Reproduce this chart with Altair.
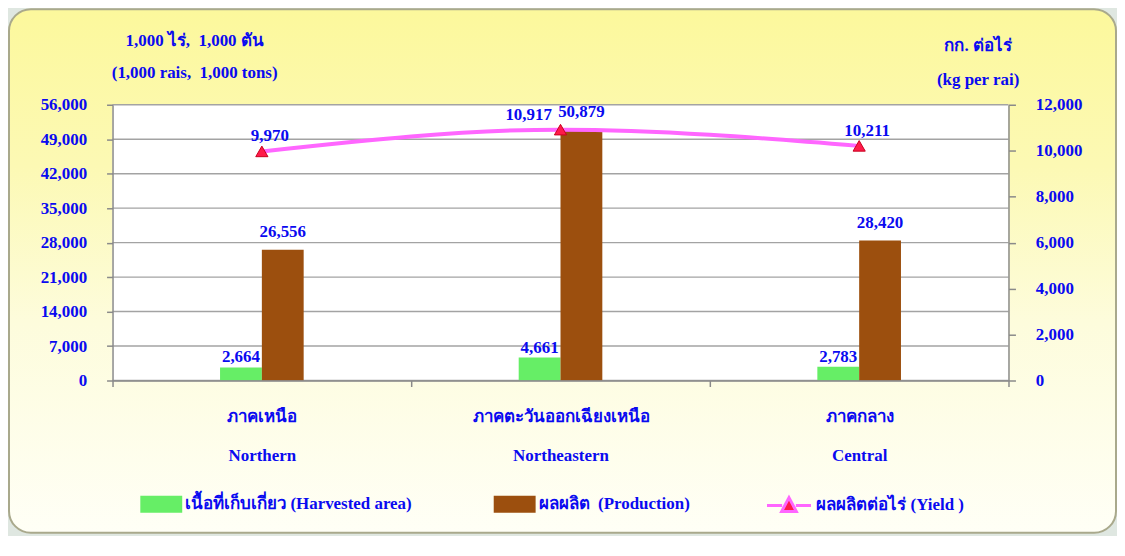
import altair as alt
import pandas as pd

# ---------------- data ----------------
NB = "\u00a0"
regions_th = ["ภาคเหนือ", "ภาคตะวันออกเฉียงเหนือ", "ภาคกลาง"]
regions_en = ["Northern", "Northeastern", "Central"]
harvested_area = [2664, 4661, 2783]
production = [26556, 50879, 28420]
yield_per_rai = [9970, 10917, 10211]
left_ticks = [0, 7000, 14000, 21000, 28000, 35000, 42000, 49000, 56000]
right_ticks = [0, 2000, 4000, 6000, 8000, 10000, 12000]
series_names = ["เนื้อที่เก็บเกี่ยว (Harvested area)", f"ผลผลิต {NB}(Production)", "ผลผลิตต่อไร่ (Yield )"]
left_title = [f"1,000 ไร่, {NB}1,000 ตัน", f"(1,000 rais, {NB}1,000 tons)"]
right_title = ["กก. ต่อไร่", "(kg per rai)"]

# ---------------- style ----------------
BLUE = "#0a0af0"
FONT = "Liberation Serif, serif"
GREEN = "#66ee66"
BROWN = "#9c4f0e"
PINK = "#ff66ff"
RED = "#ff1a4a"
GRID = "#a3a3a3"
W, H = 900, 277

region_keys = [f"{t}|{e}" for t, e in zip(regions_th, regions_en)]

bar_rows = []
for k, h, p in zip(region_keys, harvested_area, production):
    bar_rows.append({"region": k, "series": series_names[0], "value": h})
    bar_rows.append({"region": k, "series": series_names[1], "value": p})
bar_df = pd.DataFrame(bar_rows)
yield_df = pd.DataFrame({"region": region_keys, "series": series_names[2], "yv": yield_per_rai})
grid_df = pd.DataFrame({"value": left_ticks})
one_row = alt.Data(values=[{"a": 1}])

x_scale = alt.Scale(domain=region_keys, paddingInner=0, paddingOuter=0)
x_axis = alt.Axis(
    title=None, labelAngle=0, labelExpr="split(datum.label, '|')",
    labelFont=FONT, labelFontSize=17, labelFontWeight="bold", labelColor=BLUE,
    labelLineHeight=39, labelBaseline="middle", labelPadding=30,
    tickBand="extent", tickSize=6, tickColor="#8a8a8a", tickWidth=1.5,
    domainColor="#8a8a8a", domainWidth=1.5, grid=False, zindex=1,
)
left_scale = alt.Scale(domain=[0, 56000], nice=False, zero=True)
right_scale = alt.Scale(domain=[0, 12000], nice=False, zero=True)
left_axis = alt.Axis(
    values=left_ticks, format=",.0f", grid=False, orient="left",
    labelFont=FONT, labelFontSize=17, labelFontWeight="bold", labelColor=BLUE,
    labelPadding=20, tickSize=6, tickColor="#8a8a8a", tickWidth=1.5,
    domainColor="#8a8a8a", domainWidth=1.5, zindex=1,
    title=left_title, titleAngle=0, titleAlign="center", titleBaseline="alphabetic",
    titleX=82, titleY=-60, titleLineHeight=33, titleFont=FONT, titleFontSize=17,
    titleFontWeight="bold", titleColor=BLUE,
)
right_axis = alt.Axis(
    values=right_ticks, format=",.0f", grid=False, orient="right",
    labelFont=FONT, labelFontSize=17, labelFontWeight="bold", labelColor=BLUE,
    labelPadding=20, tickSize=7, tickColor="#8a8a8a", tickWidth=1.5,
    domainColor="#8a8a8a", domainWidth=1.5, zindex=1,
    title=right_title, titleAngle=0, titleAlign="center", titleBaseline="alphabetic",
    titleX=-31, titleY=-54, titleLineHeight=34, titleFont=FONT, titleFontSize=17,
    titleFontWeight="bold", titleColor=BLUE,
)

RECT = "M-0.83,-0.37H1V0.37H-0.83Z"
LINE = "M-0.96,0H-0.3M0.3,0H0.96M-0.32,0.26L0,-0.34L0.32,0.26Z"
leg_text = dict(labelFont=FONT, labelFontSize=17, labelFontWeight="bold", labelColor=BLUE,
                labelLimit=500, labelOffset=3, symbolSize=2116, title=None, orient="none")
bar_legend = alt.Legend(
    legendX=24, legendY=378, direction="horizontal", columns=2, columnPadding=77,
    symbolType=RECT, symbolStrokeWidth=0, symbolOpacity=1, **leg_text,
)
line_legend = alt.Legend(
    legendX=655, legendY=378, direction="horizontal",
    symbolType=LINE, symbolStrokeColor=PINK, symbolStrokeWidth=3,
    symbolOpacity=1, **leg_text,
)
fill_scale = alt.Scale(domain=series_names[:2], range=[GREEN, BROWN])
point_scale = alt.Scale(domain=series_names[2:], range=[RED])

# ---------------- background ----------------
bg = alt.Chart(one_row).mark_rect(
    cornerRadius=22, stroke="#a9a98c", strokeWidth=2,
    color=alt.Gradient(gradient="linear", x1=0, x2=0, y1=0, y2=1, stops=[
        alt.GradientStop(color="#fcf89c", offset=0),
        alt.GradientStop(color="#fcf9b4", offset=0.3),
        alt.GradientStop(color="#fdfcdc", offset=0.6),
        alt.GradientStop(color="#fffff6", offset=1),
    ]),
).encode(x=alt.value(-104), x2=alt.value(1008), y=alt.value(-96), y2=alt.value(430))

plot_bg = alt.Chart(one_row).mark_rect(color="white").encode(
    x=alt.value(0), x2=alt.value(W), y=alt.value(0), y2=alt.value(H)
)

# ---------------- left-axis layers ----------------
grid = alt.Chart(grid_df).mark_rule(color=GRID, strokeWidth=1.4).encode(
    y=alt.Y("value:Q", scale=left_scale, axis=left_axis)
)

base_bar = alt.Chart(bar_df).encode(
    x=alt.X("region:N", scale=x_scale, axis=x_axis, sort=region_keys),
    xOffset=alt.XOffset("series:N", scale=alt.Scale(domain=series_names[:2], range=[108, 192],
                                                     paddingInner=0, paddingOuter=0)),
    y=alt.Y("value:Q", scale=left_scale, axis=left_axis),
)
bars = base_bar.mark_bar(opacity=1).encode(
    fill=alt.Fill("series:N", scale=fill_scale, legend=bar_legend)
)
txt_style = dict(font=FONT, fontSize=17, fontWeight="bold", color=BLUE, baseline="alphabetic")
harv_lbl = base_bar.transform_filter(alt.datum.series == series_names[0]).mark_text(dy=-5, **txt_style).encode(
    text=alt.Text("value:Q", format=",")
)
prod_lbl = base_bar.transform_filter(alt.datum.series == series_names[1]).mark_text(dy=-13, **txt_style).encode(
    text=alt.Text("value:Q", format=",")
)
left_layer = alt.layer(grid, bars, harv_lbl, prod_lbl)

# ---------------- right-axis layers ----------------
base_y = alt.Chart(yield_df).encode(
    x=alt.X("region:N", scale=x_scale, axis=x_axis, sort=region_keys),
    y=alt.Y("yv:Q", scale=right_scale, axis=right_axis),
)
line = base_y.mark_line(interpolate="monotone", strokeWidth=4, color=PINK)
pts = base_y.mark_point(shape="triangle-up", filled=True, stroke="#c8001e",
                        strokeWidth=1, size=150, opacity=1).encode(
    color=alt.Color("series:N", scale=point_scale, legend=line_legend)
)
y_lbl = base_y.transform_filter(alt.datum.region != region_keys[1]).mark_text(dx=8, dy=-10, **txt_style).encode(
    text=alt.Text("yv:Q", format=",")
)
y_lbl_ne = base_y.transform_filter(alt.datum.region == region_keys[1]).mark_text(dx=-32, dy=-10, **txt_style).encode(
    text=alt.Text("yv:Q", format=",")
)
right_layer = alt.layer(line, pts, y_lbl, y_lbl_ne)

chart = alt.layer(bg, plot_bg, left_layer, right_layer).resolve_scale(
    y="independent"
).properties(
    width=W, height=H,
    padding={"left": 105, "top": 96, "right": 109, "bottom": 155},
    autosize=alt.AutoSizeParams(type="none"),
    background="#dfe7e1",
).configure_view(strokeWidth=0)

chart.save("out.html", embed_options={"renderer": "svg", "actions": False})
